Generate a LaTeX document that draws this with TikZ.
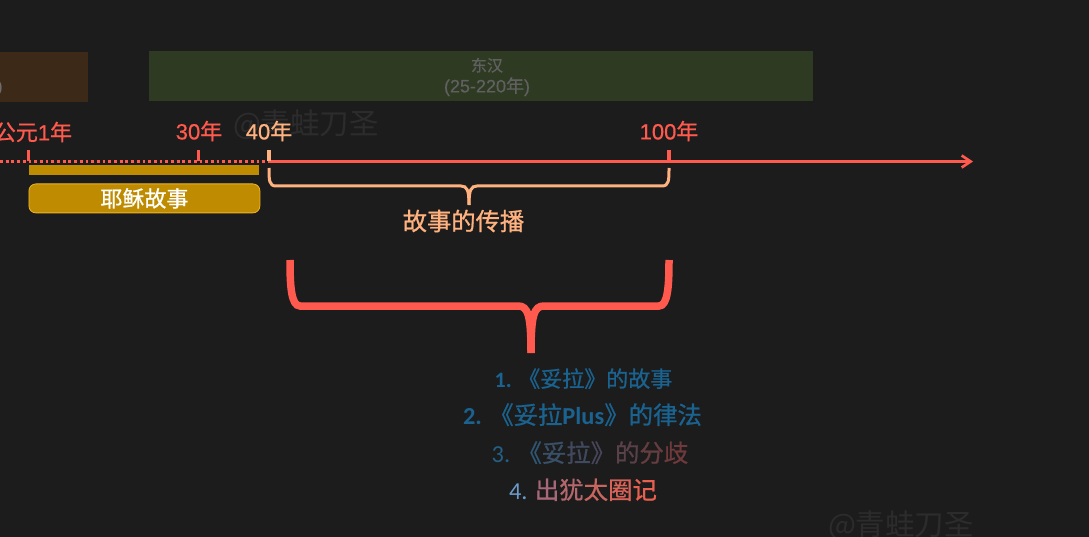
\documentclass[tikz,border=0pt]{standalone}
\usepackage{fontspec}
\usepackage{xcolor}
\usetikzlibrary{arrows.meta}
\setmainfont{Liberation Sans}
\newfontfamily\cn{Noto Sans CJK SC}
\newfontfamily\cnmid[FakeBold=0.8]{Noto Sans CJK SC}
\newfontfamily\sansmid[FakeBold=0.6]{Liberation Sans}
\newfontfamily\latin{Carlito}
\newcommand{\fsize}[1]{\fontsize{#1}{#1}\selectfont}
\newcommand{\tone}[2]{\textcolor[HTML]{#1}{#2}}
\definecolor{bg}{HTML}{1C1C1C}
\definecolor{axisred}{HTML}{FF5A4D}
\definecolor{peach}{HTML}{FFB27F}
\definecolor{gold}{HTML}{BF8B00}
\definecolor{goldline}{HTML}{F0B429}
\definecolor{hanbrown}{HTML}{3D2917}
\definecolor{dhgreen}{HTML}{2E3A22}
\definecolor{listblue}{HTML}{1A6391}

\begin{document}
\begin{tikzpicture}[x=1pt, y=-1pt,
    era/.style={inner sep=0, minimum height=50, anchor=north west},
    yearlabel/.style={text=axisred, inner sep=0, font=\sansmid\fsize{22}},
    tickmark/.style={line width=3.2, draw=axisred},
    item/.style={inner sep=0, anchor=base},
    watermark/.style={text=white!7!bg, inner sep=0, font=\cn\fsize{29.5}}]
    \useasboundingbox (0,0) rectangle (1089,537);
    \fill [bg] (0,0) rectangle (1089,537);

    \node [era, fill=hanbrown, minimum width=98] (han) at (-10,52) {};
    \node [era, fill=dhgreen, minimum width=664] (donghan) at (149,51) {};
    \node [inner sep=0, text=white!36!bg, font=\fsize{17}, anchor=east] (hanend) at (3,88) {)};
    \node [inner sep=0, text=white!30!bg, font=\sansmid\fsize{18}, align=center] (donghanlabel) at (487,77) {{\cnmid\fsize{16}东汉}\\[3pt](25-220{\cnmid 年})};

    \node [watermark] (mark1) at (306,125) {@青蛙刀圣};
    \node [watermark] (mark2) at (901,526) {@青蛙刀圣};

    \coordinate (axisstart) at (0,161.5);
    \coordinate (t1) at (28.5,161.5);
    \coordinate (t30) at (198.5,161.5);
    \coordinate (t40) at (269,161.5);
    \coordinate (t100) at (669,161.5);
    \coordinate (axisend) at (973,161.5);

    \node [yearlabel] (y1) at (33,132) {{\cnmid 公元}1{\cnmid 年}};
    \node [yearlabel] (y30) at (199,131) {30{\cnmid 年}};
    \node [yearlabel, text=peach] (y40) at (269,131) {40{\cnmid 年}};
    \node [yearlabel] (y100) at (669,131) {100{\cnmid 年}};

    \draw [axisred, line width=3, dash pattern=on 2.8 off 2.9] (axisstart) -- (t40);
    \draw [axisred, line width=2.8, -{Straight Barb[length=9,width=12,line width=2.6]}] (t40) -- (axisend);
    \draw [tickmark] (t1) -- ++(0,-11);
    \draw [tickmark] (t30) -- ++(0,-11);
    \draw [tickmark, draw=peach] (t40) -- ++(0,-11);
    \draw [tickmark] (t100) -- ++(0,-11);

    \node [inner sep=0, fill=gold, minimum width=230, minimum height=10, anchor=north west] (bar) at (29,165) {};
    \node [inner sep=0, fill=gold, draw=goldline, line width=0.8, rounded corners=7, minimum width=231, minimum height=29, text=white, font=\cnmid\fsize{22}, anchor=north west] (jesus) at (28.5,183.5) {耶稣故事};

    \coordinate (s1) at (269,168);
    \coordinate (s2) at (669,168);
    \coordinate (stip) at (469,205);
    \draw [peach, line width=3] (s1) .. controls (269,180) and (269,186) .. (276,186) -- (461,186) .. controls (467,186) and (469,190) .. (stip);
    \draw [peach, line width=3] (s2) .. controls (669,180) and (669,186) .. (662,186) -- (477,186) .. controls (471,186) and (469,190) .. (stip);
    \node [inner sep=0, text=peach, font=\cnmid\fsize{24.3}] (spread) at (463.5,221) {故事的传播};

    \coordinate (b1) at (290,260);
    \coordinate (b2) at (669,260);
    \coordinate (btip) at (531,353);
    \draw [axisred, line width=7.5] (b1) .. controls (290,285) and (291,306) .. (300,306) -- (518,306) .. controls (528,306) and (531,315) .. (btip);
    \draw [axisred, line width=7.5] (b2) .. controls (669,285) and (668,306) .. (659,306) -- (544,306) .. controls (534,306) and (531,315) .. (btip);

    \node [item, text=listblue, font=\cnmid\fsize{22}] (item1) at (583.5,387) {{\latin\bfseries 1.} 《妥拉》的故事};
    \node [item, text=listblue, font=\cnmid\fsize{24.4}] (item2) at (582.5,424) {{\latin\bfseries 2.} 《妥拉{\latin\bfseries Plus}》的律法};
    \node [item, font=\cnmid\fsize{24.4}] (item3) at (590,462) {\tone{245F85}{\latin 3.} \tone{2F5673}{《}\tone{3A5068}{妥}\tone{40495E}{拉}\tone{47465A}{》}\tone{5A4048}{的}\tone{653D40}{分}\tone{6F3A3C}{歧}};
    \node [item, font=\cnmid\fsize{24.4}] (item4) at (583,499) {\tone{6C9BC9}{\latin 4.} \tone{A86878}{出}\tone{B4686E}{犹}\tone{C8655F}{太}\tone{D86459}{圈}\tone{E8604F}{记}};
\end{tikzpicture}
\end{document}
